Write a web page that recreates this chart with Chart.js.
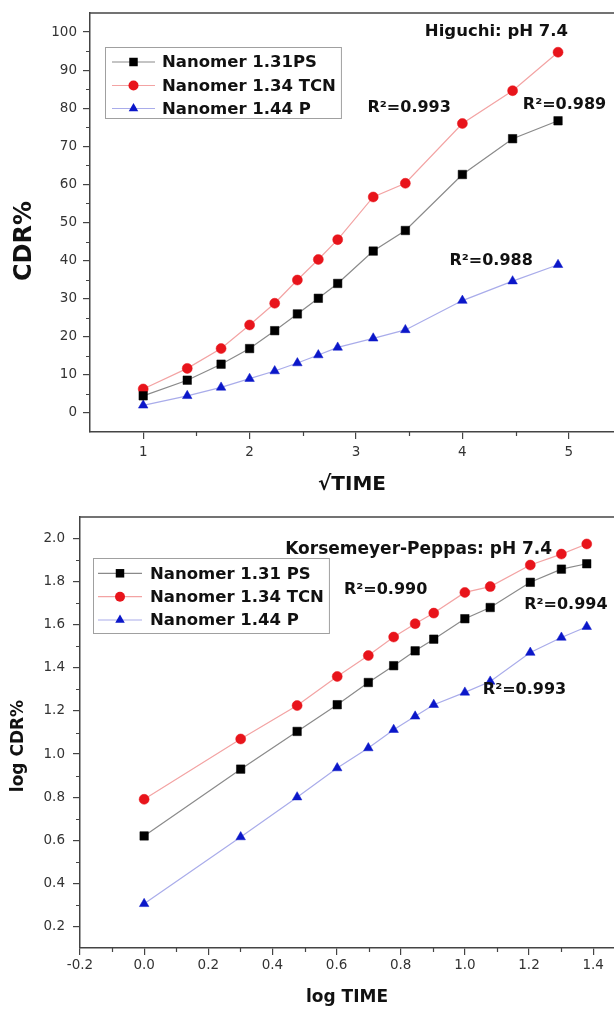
<!DOCTYPE html>
<html>
<head>
<meta charset="utf-8">
<script src="https://cdn.jsdelivr.net/npm/chart.js@4.4.1/dist/chart.umd.min.js"></script>
<style>
  html, body { margin: 0; padding: 0; background: #fff; }
  .panel { width: 614px; }
  canvas { display: block; }
</style>
</head>
<body>
<div class="panel" style="height:505px"><canvas id="higuchi" width="614" height="505"></canvas></div>
<div class="panel" style="height:504px"><canvas id="peppas" width="614" height="504"></canvas></div>
<script>
// x values (time 1..24 h)
const sqrtTime = [1, 1.414, 1.732, 2, 2.236, 2.449, 2.646, 2.828, 3.162, 3.464, 4, 4.472, 4.899];
const logTime = [0, 0.301, 0.477, 0.602, 0.699, 0.778, 0.845, 0.903, 1, 1.079, 1.204, 1.301, 1.38];

// Higuchi (CDR%)
const higuchiPS = [4.5, 8.6, 12.8, 16.9, 21.6, 26.0, 30.1, 34.0, 42.5, 47.9, 62.6, 72.0, 76.7];
const higuchiTCN = [6.3, 11.7, 16.9, 23.1, 28.8, 34.9, 40.3, 45.5, 56.7, 60.3, 76.0, 84.6, 94.7];
const higuchiP = [2.0, 4.5, 6.7, 9.0, 11.0, 13.1, 15.2, 17.2, 19.6, 21.8, 29.5, 34.6, 38.9];

// Korsemeyer-Peppas (log CDR%)
const peppasPS = [0.62, 0.93, 1.105, 1.229, 1.332, 1.41, 1.479, 1.533, 1.628, 1.68, 1.797, 1.858, 1.883];
const peppasTCN = [0.79, 1.07, 1.225, 1.36, 1.457, 1.543, 1.605, 1.654, 1.75, 1.777, 1.877, 1.928, 1.975];
const peppasP = [0.305, 0.615, 0.80, 0.935, 1.028, 1.113, 1.175, 1.229, 1.286, 1.337, 1.471, 1.541, 1.591];

const higuchiNames = ['Nanomer 1.31PS', 'Nanomer 1.34 TCN', 'Nanomer 1.44 P'];
const peppasNames = ['Nanomer 1.31 PS', 'Nanomer 1.34 TCN', 'Nanomer 1.44 P'];

// ticks
const higuchiXTicks = [1, 2, 3, 4, 5];
const higuchiXMinor = [1.5, 2.5, 3.5, 4.5];
const higuchiYTicks = [0, 10, 20, 30, 40, 50, 60, 70, 80, 90, 100];
const higuchiYMinor = [5, 15, 25, 35, 45, 55, 65, 75, 85, 95];
const peppasXTicks = [-0.2, 0, 0.2, 0.4, 0.6, 0.8, 1.0, 1.2, 1.4];
const peppasXMinor = [-0.1, 0.1, 0.3, 0.5, 0.7, 0.9, 1.1, 1.3];
const peppasYTicks = [0.2, 0.4, 0.6, 0.8, 1.0, 1.2, 1.4, 1.6, 1.8, 2.0];
const peppasYMinor = [0.3, 0.5, 0.7, 0.9, 1.1, 1.3, 1.5, 1.7, 1.9];

const FONT = '"DejaVu Sans", sans-serif';
const AXIS = '#444';

const series = [
  { line: '#8a8a8a', mark: '#000000', style: 'rect', r: 6 },
  { line: '#f3a3a3', mark: '#e8141b', style: 'circle', r: 5 },
  { line: '#a9acea', mark: '#0b17c9', style: 'triangle', r: 5.5 }
];

function makeSets(xs, ys, names) {
  return ys.map((vals, i) => ({
    label: names[i],
    data: xs.map((x, j) => ({ x, y: vals[j] })),
    borderColor: series[i].line,
    borderWidth: 1.2,
    pointStyle: series[i].style,
    pointRadius: series[i].r,
    pointBackgroundColor: series[i].mark,
    pointBorderColor: series[i].mark,
    pointBorderWidth: 0.5,
    tension: 0
  }));
}

function drawMarker(ctx, style, x, y, r, color) {
  ctx.fillStyle = color;
  ctx.beginPath();
  if (style === 'rect') {
    const s = r * Math.SQRT1_2;
    ctx.rect(x - s, y - s, 2 * s, 2 * s);
  } else if (style === 'circle') {
    ctx.arc(x, y, r, 0, Math.PI * 2);
  } else {
    for (let k = 0; k < 3; k++) {
      const a = k * 2 * Math.PI / 3;
      ctx.lineTo(x + Math.sin(a) * r, y - Math.cos(a) * r);
    }
    ctx.closePath();
  }
  ctx.fill();
}

// frame top line, minor ticks, y title, notes and the boxed legend
const decor = {
  id: 'decor',
  afterDraw(chart, args, o) {
    const { ctx, chartArea: a } = chart;
    const xs = chart.scales.x, ys = chart.scales.y;
    ctx.save();
    ctx.strokeStyle = AXIS;
    ctx.lineWidth = 1.5;
    ctx.beginPath();
    ctx.moveTo(a.left, a.top);
    ctx.lineTo(a.right, a.top);
    ctx.stroke();

    ctx.lineWidth = 1.2;
    ctx.beginPath();
    o.minorX.forEach(v => {
      const px = Math.round(xs.getPixelForValue(v)) + 0.5;
      ctx.moveTo(px, a.bottom);
      ctx.lineTo(px, a.bottom + 4);
    });
    o.minorY.forEach(v => {
      const py = Math.round(ys.getPixelForValue(v)) + 0.5;
      ctx.moveTo(a.left - 4, py);
      ctx.lineTo(a.left, py);
    });
    ctx.stroke();

    ctx.fillStyle = '#111';
    ctx.textAlign = 'center';
    ctx.textBaseline = 'middle';
    o.notes.forEach(n => {
      ctx.font = n.font;
      ctx.fillText(n.text, xs.getPixelForValue(n.x), ys.getPixelForValue(n.y));
    });

    ctx.save();
    ctx.font = o.yTitle.font;
    ctx.translate(o.yTitle.x, o.yTitle.y);
    ctx.rotate(-Math.PI / 2);
    ctx.fillText(o.yTitle.text, 0, 0);
    ctx.restore();

    // legend
    const lg = o.legend;
    ctx.font = 'bold 16.5px ' + FONT;
    const sets = chart.data.datasets;
    const w = Math.max(...sets.map(d => ctx.measureText(d.label).width));
    ctx.strokeStyle = '#a0a0a0';
    ctx.lineWidth = 1;
    ctx.fillStyle = '#fff';
    ctx.fillRect(lg.x, lg.y, lg.textX + w + 5 - lg.x, lg.h);
    ctx.strokeRect(lg.x + 0.5, lg.y + 0.5, lg.textX + w + 5 - lg.x, lg.h);
    sets.forEach((d, i) => {
      const y = lg.rows[i];
      ctx.strokeStyle = d.borderColor;
      ctx.lineWidth = 1.2;
      ctx.beginPath();
      ctx.moveTo(lg.lineX[0], y);
      ctx.lineTo(lg.lineX[1], y);
      ctx.stroke();
      drawMarker(ctx, d.pointStyle, (lg.lineX[0] + lg.lineX[1]) / 2, y, d.pointRadius, d.pointBackgroundColor);
      ctx.fillStyle = '#111';
      ctx.textAlign = 'left';
      ctx.fillText(d.label, lg.textX, y + 1);
    });
    ctx.restore();
  }
};

function axisX(min, max, ticks, fmt, height, pad, title, titleFont, titlePad) {
  return {
    type: 'linear', min, max,
    afterBuildTicks: s => { s.ticks = ticks.map(v => ({ value: v })); },
    afterFit: s => { s.height = height; s.paddingLeft = 0; s.paddingRight = 0; },
    ticks: { color: '#333', font: { family: FONT, size: 13.5 }, padding: pad, maxRotation: 0, autoSkip: false, callback: fmt },
    grid: { drawOnChartArea: false, drawTicks: true, tickLength: 7, color: AXIS, lineWidth: 1.2 },
    border: { display: true, color: AXIS, width: 1.5 },
    title: { display: true, text: title, color: '#111', font: titleFont, padding: { top: 0, bottom: titlePad } }
  };
}

function axisY(min, max, ticks, fmt, width, pad) {
  return {
    type: 'linear', min, max,
    afterBuildTicks: s => { s.ticks = ticks.map(v => ({ value: v })); },
    afterFit: s => { s.width = width; s.paddingTop = 0; s.paddingBottom = 0; },
    ticks: { color: '#333', font: { family: FONT, size: 13.5 }, padding: pad, autoSkip: false, callback: fmt },
    grid: { drawOnChartArea: false, drawTicks: true, tickLength: 7, color: AXIS, lineWidth: 1.2 },
    border: { display: true, color: AXIS, width: 1.5 }
  };
}

new Chart(document.getElementById('higuchi'), {
  type: 'line',
  data: { datasets: makeSets(sqrtTime, [higuchiPS, higuchiTCN, higuchiP], higuchiNames) },
  options: {
    responsive: false,
    animation: false,
    layout: { autoPadding: false, padding: { top: 13, left: 0, right: 0, bottom: 0 } },
    scales: {
      x: axisX(0.5, 5.425, higuchiXTicks, v => String(v), 73, 5, '\u221ATIME', { family: FONT, size: 20, weight: 'bold' }, 8),
      y: axisY(-5, 105, higuchiYTicks, v => String(v), 90, 6)
    },
    plugins: {
      legend: { display: false },
      tooltip: { enabled: false },
      decor: {
        minorX: higuchiXMinor,
        minorY: higuchiYMinor,
        yTitle: { text: 'CDR%', x: 25, y: 241, font: 'bold 24px ' + FONT },
        notes: [
          { text: 'Higuchi: pH 7.4', x: 4.32, y: 100, font: 'bold 16.5px ' + FONT },
          { text: 'R\u00B2=0.993', x: 3.5, y: 80, font: 'bold 16px ' + FONT },
          { text: 'R\u00B2=0.989', x: 4.96, y: 81, font: 'bold 16px ' + FONT },
          { text: 'R\u00B2=0.988', x: 4.27, y: 40, font: 'bold 16px ' + FONT }
        ],
        legend: { x: 105, y: 47, h: 71, rows: [62, 85.5, 108.5], lineX: [112, 155], textX: 162 }
      }
    }
  },
  plugins: [decor]
});

new Chart(document.getElementById('peppas'), {
  type: 'line',
  data: { datasets: makeSets(logTime, [peppasPS, peppasTCN, peppasP], peppasNames) },
  options: {
    responsive: false,
    animation: false,
    layout: { autoPadding: false, padding: { top: 12, left: 0, right: 0, bottom: 0 } },
    scales: {
      x: axisX(-0.2, 1.465, peppasXTicks, v => v.toFixed(1), 61, 2, 'log TIME', { family: FONT, size: 17, weight: 'bold' }, 1),
      y: axisY(0.1, 2.1, peppasYTicks, v => v.toFixed(1), 80, 8)
    },
    plugins: {
      legend: { display: false },
      tooltip: { enabled: false },
      decor: {
        minorX: peppasXMinor,
        minorY: peppasYMinor,
        yTitle: { text: 'log CDR%', x: 19, y: 241, font: 'bold 17px ' + FONT },
        notes: [
          { text: 'Korsemeyer-Peppas: pH 7.4', x: 0.856, y: 1.948, font: 'bold 17px ' + FONT },
          { text: 'R\u00B2=0.990', x: 0.753, y: 1.762, font: 'bold 16px ' + FONT },
          { text: 'R\u00B2=0.994', x: 1.315, y: 1.692, font: 'bold 16px ' + FONT },
          { text: 'R\u00B2=0.993', x: 1.186, y: 1.298, font: 'bold 16px ' + FONT }
        ],
        legend: { x: 93, y: 53, h: 75, rows: [68.3, 91.7, 115], lineX: [98, 142], textX: 150 }
      }
    }
  },
  plugins: [decor]
});
</script>
</body>
</html>
